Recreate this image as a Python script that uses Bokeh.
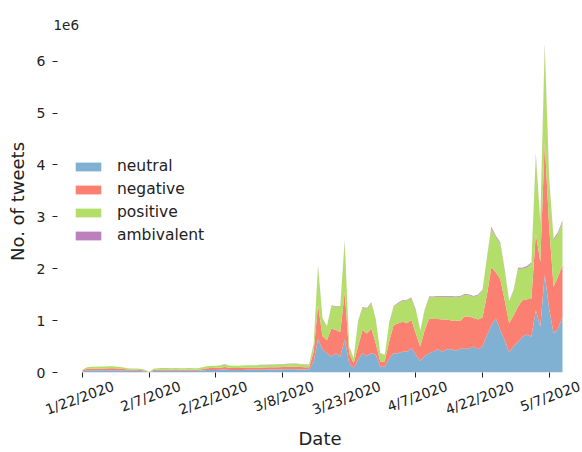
import numpy as np
from math import radians
from bokeh.plotting import figure
from bokeh.models import (ColumnDataSource, FixedTicker, CustomJSTickFormatter,
                          LinearAxis, Range1d)
from bokeh.embed import file_html
from bokeh.resources import INLINE

# Daily tweet counts by sentiment, in millions (one value per day in the series)
neutral = [
    0.02, 0.04, 0.04, 0.045, 0.045, 0.045, 0.045, 0.045, 0.04, 0.04,
    0.035, 0.035, 0.035, 0.03, 0.025, 0.003, 0.03, 0.035, 0.035, 0.035,
    0.035, 0.035, 0.035, 0.035, 0.035, 0.035, 0.035, 0.04, 0.05, 0.05,
    0.05, 0.055, 0.06, 0.05, 0.05, 0.05, 0.05, 0.055, 0.055, 0.055,
    0.055, 0.055, 0.06, 0.06, 0.06, 0.06, 0.065, 0.065, 0.065, 0.06,
    0.06, 0.06, 0.20, 0.64, 0.45, 0.37, 0.31, 0.37, 0.31, 0.64,
    0.18, 0.08, 0.24, 0.37, 0.32, 0.37, 0.34, 0.11, 0.11, 0.27,
    0.37, 0.37, 0.40, 0.40, 0.47, 0.34, 0.22, 0.32, 0.37, 0.40,
    0.45, 0.40, 0.45, 0.45, 0.42, 0.46, 0.46, 0.46, 0.50, 0.45,
    0.50, 0.72, 0.91, 1.04, 0.82, 0.62, 0.39, 0.50, 0.59, 0.69,
    0.73, 0.69, 1.20, 0.88, 1.88, 1.23, 0.75, 0.85, 1.07,
]
negative = [
    0.02, 0.03, 0.03, 0.03, 0.03, 0.03, 0.035, 0.035, 0.035, 0.03,
    0.025, 0.02, 0.02, 0.02, 0.015, 0.002, 0.02, 0.02, 0.02, 0.02,
    0.02, 0.025, 0.02, 0.02, 0.02, 0.02, 0.02, 0.025, 0.03, 0.035,
    0.04, 0.035, 0.045, 0.04, 0.035, 0.035, 0.04, 0.035, 0.035, 0.035,
    0.04, 0.04, 0.04, 0.04, 0.04, 0.045, 0.045, 0.045, 0.045, 0.045,
    0.04, 0.04, 0.20, 0.66, 0.25, 0.25, 0.54, 0.45, 0.47, 0.91,
    0.19, 0.10, 0.26, 0.45, 0.43, 0.48, 0.22, 0.10, 0.10, 0.33,
    0.54, 0.58, 0.58, 0.55, 0.54, 0.41, 0.28, 0.50, 0.67, 0.63,
    0.58, 0.62, 0.57, 0.55, 0.58, 0.53, 0.62, 0.62, 0.55, 0.57,
    0.56, 0.78, 1.12, 0.89, 0.98, 0.77, 0.56, 0.60, 0.68, 0.70,
    0.68, 0.73, 1.48, 1.25, 2.57, 1.57, 0.90, 1.00, 1.00,
]
positive = [
    0.01, 0.03, 0.04, 0.035, 0.04, 0.04, 0.04, 0.04, 0.035, 0.03,
    0.02, 0.02, 0.02, 0.02, 0.01, 0.003, 0.02, 0.025, 0.03, 0.03,
    0.025, 0.025, 0.025, 0.025, 0.03, 0.025, 0.025, 0.035, 0.04, 0.045,
    0.04, 0.05, 0.055, 0.045, 0.045, 0.045, 0.045, 0.05, 0.05, 0.05,
    0.05, 0.05, 0.05, 0.05, 0.055, 0.055, 0.055, 0.06, 0.06, 0.055,
    0.055, 0.05, 0.15, 0.74, 0.34, 0.26, 0.43, 0.45, 0.49, 0.97,
    0.13, 0.09, 0.48, 0.43, 0.48, 0.49, 0.45, 0.16, 0.13, 0.35,
    0.36, 0.38, 0.40, 0.44, 0.42, 0.45, 0.30, 0.38, 0.41, 0.42,
    0.43, 0.44, 0.44, 0.46, 0.45, 0.47, 0.42, 0.41, 0.41, 0.47,
    0.52, 0.70, 0.75, 0.68, 0.68, 0.58, 0.41, 0.48, 0.73, 0.61,
    0.62, 0.68, 1.50, 0.74, 1.82, 0.90, 0.90, 0.83, 0.83,
]
ambivalent = [
    0.001, 0.002, 0.002, 0.002, 0.002, 0.002, 0.002, 0.002, 0.002, 0.002,
    0.001, 0.001, 0.001, 0.001, 0.001, 0.0, 0.001, 0.001, 0.001, 0.001,
    0.001, 0.001, 0.001, 0.001, 0.001, 0.001, 0.001, 0.002, 0.002, 0.002,
    0.002, 0.002, 0.003, 0.002, 0.002, 0.002, 0.002, 0.002, 0.002, 0.002,
    0.002, 0.002, 0.003, 0.003, 0.003, 0.003, 0.003, 0.003, 0.003, 0.003,
    0.003, 0.003, 0.006, 0.02, 0.01, 0.009, 0.013, 0.012, 0.012, 0.025,
    0.005, 0.003, 0.01, 0.012, 0.012, 0.013, 0.01, 0.004, 0.003, 0.009,
    0.012, 0.013, 0.013, 0.013, 0.014, 0.012, 0.008, 0.012, 0.014, 0.014,
    0.014, 0.014, 0.014, 0.014, 0.014, 0.014, 0.015, 0.015, 0.014, 0.015,
    0.016, 0.022, 0.028, 0.026, 0.025, 0.02, 0.014, 0.016, 0.02, 0.02,
    0.02, 0.021, 0.04, 0.028, 0.06, 0.036, 0.025, 0.026, 0.029,
]

sentiments = ["neutral", "negative", "positive", "ambivalent"]
colors = ["#80b1d3", "#fb8072", "#b3de69", "#bc80bd"]

# Every 15th day is labelled on the date axis
tick_positions = [0, 15, 30, 45, 60, 75, 90, 105]
tick_labels = ["1/22/2020", "2/7/2020", "2/22/2020", "3/8/2020",
               "3/23/2020", "4/7/2020", "4/22/2020", "5/7/2020"]

SCALE = 1e6
n_days = len(neutral)
source = ColumnDataSource(dict(
    day=np.arange(n_days),
    neutral=np.array(neutral) * SCALE,
    negative=np.array(negative) * SCALE,
    positive=np.array(positive) * SCALE,
    ambivalent=np.array(ambivalent) * SCALE,
))

FONT = "DejaVu Sans"
INK = "#222222"

X_START, X_END = -5.625, 112.5
FRAME_LEFT, FRAME_RIGHT = 57, 0
WIDTH = 582
px_per_day = (WIDTH - FRAME_LEFT - FRAME_RIGHT) / (X_END - X_START)

p = figure(width=WIDTH, height=452, output_backend="svg", toolbar_location=None,
           x_range=Range1d(X_START, X_END), y_range=Range1d(0, 6.59e6),
           min_border_left=FRAME_LEFT, min_border_right=FRAME_RIGHT,
           min_border_top=30, min_border_bottom=80)
p.outline_line_color = None
p.xgrid.visible = False
p.ygrid.visible = False

p.varea_stack(sentiments, x="day", color=colors, source=source,
              legend_label=sentiments)

# Offset text of the count axis
p.title.text = "1e6"
p.title.align = "left"
p.title.offset = -4
p.title.standoff = 2
p.title.text_font = FONT
p.title.text_font_size = "13.5px"
p.title.text_font_style = "normal"
p.title.text_color = INK

# Date axis, part 1: tick marks only
xa = p.xaxis[0]
xa.ticker = FixedTicker(ticks=tick_positions)
xa.major_label_text_font_size = "0px"
xa.major_label_standoff = 0
xa.axis_line_color = None
xa.major_tick_out = 5
xa.major_tick_in = 0
xa.minor_tick_out = 0
xa.minor_tick_in = 0
xa.major_tick_line_color = INK

# Date axis, part 2: rotated labels. Bokeh hangs a rotated label from its
# right end, so this axis runs on a range shifted to centre each label on its tick.
label_shift = 31 / px_per_day
p.extra_x_ranges = {"date_labels": Range1d(X_START - label_shift, X_END - label_shift)}
xl = LinearAxis(x_range_name="date_labels", ticker=FixedTicker(ticks=tick_positions))
xl.major_label_overrides = {pos: lab for pos, lab in zip(tick_positions, tick_labels)}
xl.major_label_orientation = radians(20)
xl.major_label_text_font = FONT
xl.major_label_text_font_size = "14px"
xl.major_label_text_color = INK
xl.major_label_standoff = 8
xl.axis_line_color = None
xl.major_tick_line_color = None
xl.major_tick_out = 0
xl.major_tick_in = 0
xl.minor_tick_out = 0
xl.minor_tick_in = 0
xl.axis_label = "Date"
xl.axis_label_text_font = FONT
xl.axis_label_text_font_size = "18px"
xl.axis_label_text_font_style = "normal"
xl.axis_label_text_color = INK
xl.axis_label_standoff = 0
p.add_layout(xl, "below")

ya = p.yaxis[0]
ya.ticker = FixedTicker(ticks=[i * SCALE for i in range(7)])
ya.formatter = CustomJSTickFormatter(code="return (tick / 1e6).toFixed(0);")
ya.axis_line_color = None
ya.major_tick_out = 5
ya.major_tick_in = 0
ya.minor_tick_out = 0
ya.minor_tick_in = 0
ya.major_tick_line_color = INK
ya.major_label_text_font = FONT
ya.major_label_text_font_size = "14px"
ya.major_label_text_color = INK
ya.major_label_standoff = 7
ya.axis_label = "No. of tweets"
ya.axis_label_text_font = FONT
ya.axis_label_text_font_size = "18px"
ya.axis_label_text_font_style = "normal"
ya.axis_label_text_color = INK
ya.axis_label_standoff = 6

leg = p.legend[0]
leg.location = (15, 128)
leg.border_line_color = None
leg.background_fill_alpha = 0
leg.padding = 0
leg.margin = 0
leg.spacing = 5
leg.label_height = 18
leg.glyph_height = 11
leg.glyph_width = 32
leg.label_standoff = 13
leg.label_text_font = FONT
leg.label_text_font_size = "15.5px"
leg.label_text_color = INK

open("out.html", "w").write(file_html(p, INLINE))
